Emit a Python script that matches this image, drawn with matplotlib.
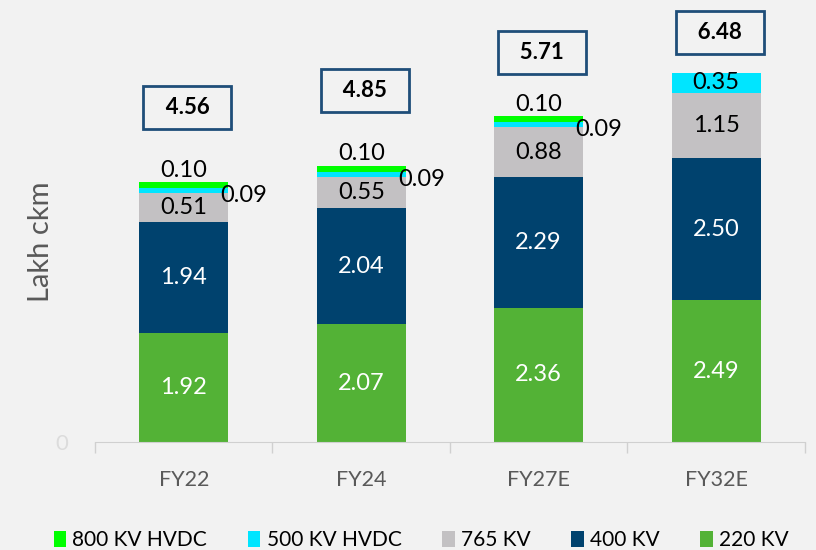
import numpy as np
import matplotlib.pyplot as plt

years = ["FY22", "FY24", "FY27E", "FY32E"]
kv220 = [1.92, 2.07, 2.36, 2.49]
kv400 = [1.94, 2.04, 2.29, 2.50]
kv765 = [0.51, 0.55, 0.88, 1.15]
hvdc500 = [0.09, 0.09, 0.09, 0.35]
hvdc800 = [0.10, 0.10, 0.10, 0.00]
totals = ["4.56", "4.85", "5.71", "6.48"]
# height of the total boxes (data units)
box_y = [5.88, 6.18, 6.84, 7.19]

bg = "#F2F2F2"
plt.rcParams["font.family"] = ["Lato", "DejaVu Sans"]

fig = plt.figure(figsize=(8.16, 5.5), dpi=100, facecolor=bg)
ax = fig.add_axes([0.1164, 0.196, 0.870, 0.787], facecolor=bg)

x = np.arange(len(years))
w = 0.5
series = [
    ("220 KV", kv220, "#53B236"),
    ("400 KV", kv400, "#00426E"),
    ("765 KV", kv765, "#C3C1C3"),
    ("500 KV HVDC", hvdc500, "#00E5FF"),
    ("800 KV HVDC", hvdc800, "#00FF00"),
]
bottom = np.zeros(len(years))
handles = {}
fs = 17
for name, vals, col in series:
    vals = np.array(vals)
    b = ax.bar(x, vals, w, bottom=bottom, color=col, label=name, zorder=2)
    handles[name] = b
    for i, v in enumerate(vals):
        if v <= 0:
            continue
        mid = bottom[i] + v / 2
        txt = f"{v:.2f}"
        if name in ("220 KV", "400 KV"):
            ax.text(x[i], mid, txt, ha="center", va="center", color="white", fontsize=fs)
        elif name == "765 KV":
            ax.text(x[i], mid, txt, ha="center", va="center", color="black", fontsize=fs)
        elif name == "500 KV HVDC":
            if v > 0.2:
                ax.text(x[i], mid, txt, ha="center", va="center", color="black", fontsize=fs)
            else:
                ax.text(x[i] + w / 2 + 0.09, mid - 0.09, txt, ha="center", va="center",
                        color="black", fontsize=fs)
        else:
            ax.text(x[i], bottom[i] + v + 0.03, txt, ha="center", va="bottom",
                    color="black", fontsize=fs)
    bottom += vals

for i, t in enumerate(totals):
    ax.text(x[i] + 0.02, box_y[i], "  " + t + "  ", ha="center", va="center", fontsize=16,
            fontweight="bold", color="black",
            bbox=dict(boxstyle="square,pad=0.5", fc=bg, ec="#1F4E79", lw=2.0))

ax.set_xlim(-0.5, 3.5)
ax.set_ylim(0, 7.6)
ax.set_xticks(x)
ax.set_xticklabels(years, fontsize=15.5, color="#595959")
ax.tick_params(axis="x", which="major", length=0, pad=20)
ax.set_xticks(np.arange(-0.5, 3.6, 1), minor=True)
ax.tick_params(axis="x", which="minor", length=8, color="#D0D0D0", width=1)
ax.set_yticks([0])
ax.set_yticklabels(["0"], fontsize=16, color="#DCDCDC")
ax.tick_params(axis="y", length=0, pad=19)
fig.text(41 / 816, 1 - 242 / 550, "Lakh ckm", rotation=90, ha="center", va="center",
         fontsize=21, color="#595959")
for s in ["top", "right", "left"]:
    ax.spines[s].set_visible(False)
ax.spines["bottom"].set_color("#D0D0D0")

order = ["800 KV HVDC", "500 KV HVDC", "765 KV", "400 KV", "220 KV"]
fig.legend([handles[n] for n in order], order, loc="center", bbox_to_anchor=(0.516, 0.018),
           ncol=5, frameon=False, fontsize=15,
           handlelength=0.6, handleheight=0.8, handletextpad=0.3, columnspacing=1.95)

fig.savefig("out.png", dpi=100, facecolor=bg)
